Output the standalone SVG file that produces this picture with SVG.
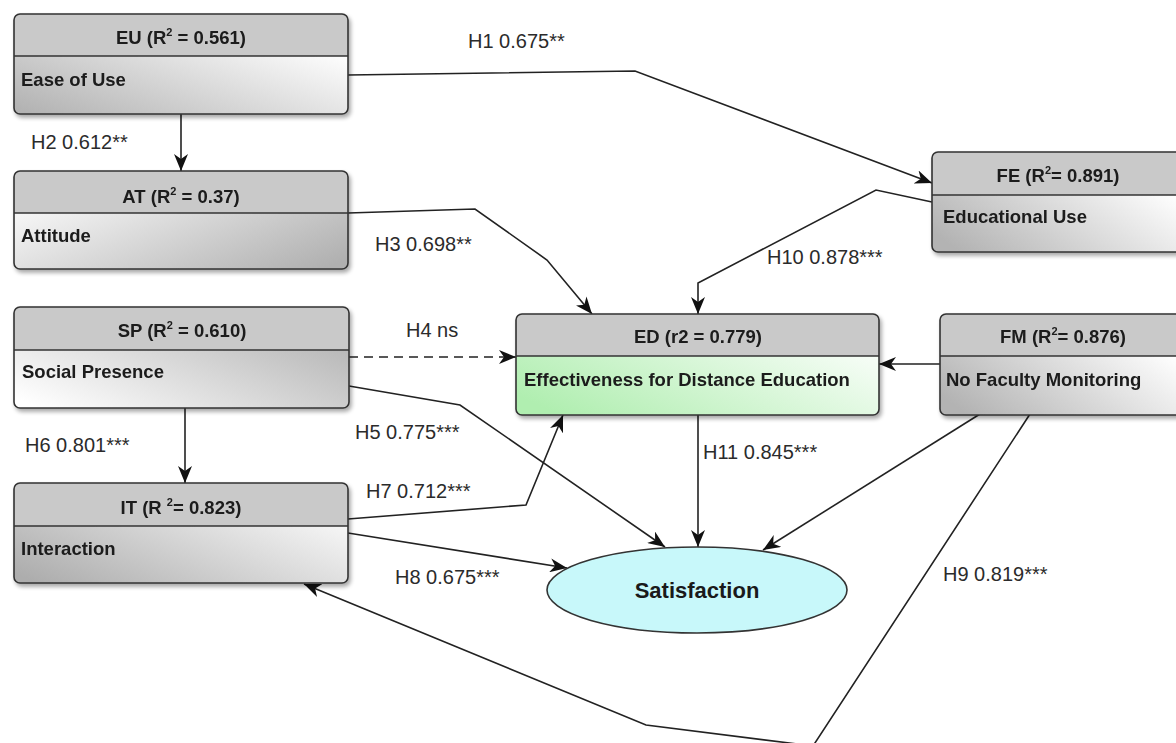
<svg xmlns="http://www.w3.org/2000/svg" width="1176" height="743" viewBox="0 0 1176 743">
<defs>
<style>
.box{fill:none;stroke:#333;stroke-width:1.6}
.hdr{fill:#c9c9c9}
.div{stroke:#333;stroke-width:1.4}
.ht{font-family:"Liberation Sans",Arial,sans-serif;font-weight:bold;font-size:18.5px;fill:#1a1a1a;text-anchor:middle}
.bt{font-family:"Liberation Sans",Arial,sans-serif;font-weight:bold;font-size:18.5px;fill:#1a1a1a}
.sup{font-size:11px}
.lbl{font-family:"Liberation Sans",Arial,sans-serif;font-size:20px;fill:#2b2b2b}
.c{fill:none;stroke:#222;stroke-width:1.6}
.dash{stroke-dasharray:9 6}
</style>
<linearGradient id="gEU" x1="0" y1="1" x2="0.85" y2="0.3"><stop offset="0" stop-color="#b0b0b0"/><stop offset="1" stop-color="#fbfbfb"/></linearGradient>
<linearGradient id="gAT" x1="0" y1="0.2" x2="1" y2="0.9"><stop offset="0" stop-color="#ffffff"/><stop offset="1" stop-color="#b0b0b0"/></linearGradient>
<linearGradient id="gSP" x1="0" y1="0.9" x2="1" y2="0.2"><stop offset="0" stop-color="#ffffff"/><stop offset="1" stop-color="#b0b0b0"/></linearGradient>
<linearGradient id="gIT" x1="0" y1="0.9" x2="1" y2="0.2"><stop offset="0" stop-color="#adadad"/><stop offset="1" stop-color="#ffffff"/></linearGradient>
<linearGradient id="gFE" x1="0" y1="0.8" x2="0.9" y2="0.3"><stop offset="0" stop-color="#b3b3b3"/><stop offset="1" stop-color="#ffffff"/></linearGradient>
<linearGradient id="gED" x1="0" y1="0.8" x2="1" y2="0.2"><stop offset="0" stop-color="#b0eeb0"/><stop offset="1" stop-color="#ffffff"/></linearGradient>
<filter id="sh" x="-5%" y="-5%" width="115%" height="125%">
<feGaussianBlur in="SourceAlpha" stdDeviation="2"/>
<feOffset dx="2" dy="3" result="o"/>
<feComponentTransfer><feFuncA type="linear" slope="0.35"/></feComponentTransfer>
<feMerge><feMergeNode/><feMergeNode in="SourceGraphic"/></feMerge>
</filter>
<marker id="ar" viewBox="0 0 17 14" refX="17" refY="7" markerWidth="17" markerHeight="14" markerUnits="userSpaceOnUse" orient="auto">
<path d="M0,0 L17,7 L0,14 L5,7 Z" fill="#111"/>
</marker>
</defs>
<rect width="1176" height="743" fill="#ffffff"/>

<g id="connectors">
<path class="c" d="M348,75 L635,71 L932,183" marker-end="url(#ar)"/>
<path class="c" d="M181,114 L181,171" marker-end="url(#ar)"/>
<path class="c" d="M348,213 L475,209 L547,260 L592,314" marker-end="url(#ar)"/>
<path class="c dash" d="M349,357 L516,357" marker-end="url(#ar)"/>
<path class="c" d="M349,386 L460,405 L665,547" marker-end="url(#ar)"/>
<path class="c" d="M185,408 L185,483" marker-end="url(#ar)"/>
<path class="c" d="M348,519 L526,505 L563,415" marker-end="url(#ar)"/>
<path class="c" d="M348,533 L567,568" marker-end="url(#ar)"/>
<path class="c" d="M1030,414 L813,746 L646,725 L304,584" marker-end="url(#ar)"/>
<path class="c" d="M932,202 L876,190 L698,283 L698,314" marker-end="url(#ar)"/>
<path class="c" d="M698,415 L698,547" marker-end="url(#ar)"/>
<path class="c" d="M940,364 L879,364" marker-end="url(#ar)"/>
<path class="c" d="M980,414 L763,550" marker-end="url(#ar)"/>
</g>

<g id="labels">
<text class="lbl" x="468" y="48">H1 0.675**</text>
<text class="lbl" x="31" y="149">H2 0.612**</text>
<text class="lbl" x="375" y="251">H3 0.698**</text>
<text class="lbl" x="406" y="337">H4 ns</text>
<text class="lbl" x="355" y="439">H5 0.775***</text>
<text class="lbl" x="25" y="452">H6 0.801***</text>
<text class="lbl" x="366" y="498">H7 0.712***</text>
<text class="lbl" x="395" y="584">H8 0.675***</text>
<text class="lbl" x="943" y="581">H9 0.819***</text>
<text class="lbl" x="767" y="264">H10 0.878***</text>
<text class="lbl" x="703" y="459">H11 0.845***</text>
</g>

<g id="EU" filter="url(#sh)">
<rect x="14" y="14" width="334" height="100" rx="6" fill="url(#gEU)"/>
<path class="hdr" d="M14,56 V20 Q14,14 20,14 H342 Q348,14 348,20 V56 Z"/>
<line class="div" x1="14" y1="56" x2="348" y2="56"/>
<rect class="box" x="14" y="14" width="334" height="100" rx="6"/>
<text class="ht" x="181" y="44">EU (R<tspan class="sup" dy="-8">2</tspan><tspan dy="8"> = 0.561)</tspan></text>
<text class="bt" x="21" y="86">Ease of Use</text>
</g>

<g id="AT" filter="url(#sh)">
<rect x="14" y="171" width="334" height="98" rx="6" fill="url(#gAT)"/>
<path class="hdr" d="M14,213 V177 Q14,171 20,171 H342 Q348,171 348,177 V213 Z"/>
<line class="div" x1="14" y1="213" x2="348" y2="213"/>
<rect class="box" x="14" y="171" width="334" height="98" rx="6"/>
<text class="ht" x="181" y="203">AT (R<tspan class="sup" dy="-8">2</tspan><tspan dy="8"> = 0.37)</tspan></text>
<text class="bt" x="21" y="242">Attitude</text>
</g>

<g id="SP" filter="url(#sh)">
<rect x="14" y="307" width="335" height="101" rx="6" fill="url(#gSP)"/>
<path class="hdr" d="M14,350 V313 Q14,307 20,307 H343 Q349,307 349,313 V350 Z"/>
<line class="div" x1="14" y1="350" x2="349" y2="350"/>
<rect class="box" x="14" y="307" width="335" height="101" rx="6"/>
<text class="ht" x="182" y="337">SP (R<tspan class="sup" dy="-8">2</tspan><tspan dy="8"> = 0.610)</tspan></text>
<text class="bt" x="22" y="378">Social Presence</text>
</g>

<g id="IT" filter="url(#sh)">
<rect x="14" y="483" width="334" height="100" rx="6" fill="url(#gIT)"/>
<path class="hdr" d="M14,526 V489 Q14,483 20,483 H342 Q348,483 348,489 V526 Z"/>
<line class="div" x1="14" y1="526" x2="348" y2="526"/>
<rect class="box" x="14" y="483" width="334" height="100" rx="6"/>
<text class="ht" x="181" y="514">IT (R <tspan class="sup" dy="-8">2</tspan><tspan dy="8">= 0.823)</tspan></text>
<text class="bt" x="21" y="555">Interaction</text>
</g>

<g id="ED" filter="url(#sh)">
<rect x="516" y="314" width="363" height="101" rx="6" fill="url(#gED)"/>
<path class="hdr" d="M516,356 V320 Q516,314 522,314 H873 Q879,314 879,320 V356 Z"/>
<line class="div" x1="516" y1="356" x2="879" y2="356"/>
<rect class="box" x="516" y="314" width="363" height="101" rx="6"/>
<text class="ht" x="698" y="343">ED (r2 = 0.779)</text>
<text class="bt" x="524" y="386">Effectiveness for Distance Education</text>
</g>

<g id="FE" filter="url(#sh)">
<rect x="932" y="152" width="254" height="100" rx="6" fill="url(#gFE)"/>
<path class="hdr" d="M932,195 V158 Q932,152 938,152 H1180 Q1186,152 1186,158 V195 Z"/>
<line class="div" x1="932" y1="195" x2="1186" y2="195"/>
<rect class="box" x="932" y="152" width="254" height="100" rx="6"/>
<text class="ht" x="1058" y="182">FE (R<tspan class="sup" dy="-8">2</tspan><tspan dy="8">= 0.891)</tspan></text>
<text class="bt" x="943" y="223">Educational Use</text>
</g>

<g id="FM" filter="url(#sh)">
<rect x="940" y="314" width="246" height="101" rx="6" fill="url(#gFE)"/>
<path class="hdr" d="M940,356 V320 Q940,314 946,314 H1180 Q1186,314 1186,320 V356 Z"/>
<line class="div" x1="940" y1="356" x2="1186" y2="356"/>
<rect class="box" x="940" y="314" width="246" height="101" rx="6"/>
<text class="ht" x="1063" y="343">FM (R<tspan class="sup" dy="-8">2</tspan><tspan dy="8">= 0.876)</tspan></text>
<text class="bt" x="946" y="386">No Faculty Monitoring</text>
</g>

<g id="SAT">
<ellipse cx="697" cy="590" rx="150" ry="43" fill="#c8f8fa" stroke="#333" stroke-width="1.6"/>
<text x="697" y="598" font-family="'Liberation Sans',Arial,sans-serif" font-weight="bold" font-size="22" fill="#1a1a1a" text-anchor="middle">Satisfaction</text>
</g>
</svg>
